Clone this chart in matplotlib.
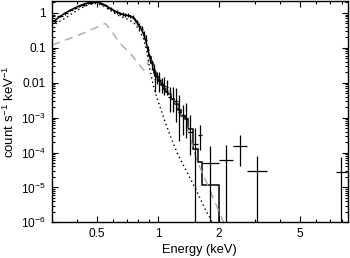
import numpy as np
import matplotlib
matplotlib.use("Agg")
import matplotlib.pyplot as plt
from matplotlib.ticker import FixedLocator, NullFormatter, LogLocator

plt.rcParams['font.family'] = ['Liberation Sans', 'DejaVu Sans']
plt.rcParams['mathtext.fontset'] = 'custom'
plt.rcParams['mathtext.rm'] = 'Liberation Sans'
plt.rcParams['mathtext.it'] = 'Liberation Sans'

# spectral bins (keV)
edges = [0.30, 0.32, 0.34, 0.36, 0.38, 0.40, 0.42, 0.44, 0.46, 0.48, 0.50,
         0.52, 0.54, 0.56, 0.58, 0.60, 0.62, 0.64, 0.66, 0.68, 0.70, 0.72,
         0.74, 0.76, 0.78, 0.80, 0.82, 0.84, 0.86, 0.88, 0.90, 0.92, 0.94,
         0.96, 0.98, 1.00, 1.03, 1.06, 1.09, 1.12, 1.16, 1.20, 1.25, 1.30,
         1.35, 1.40, 1.48, 1.57, 1.64, 2.00, 2.35, 2.75, 3.45]

# total model per bin
model = [0.6, 0.8, 1.0, 1.2, 1.4, 1.6, 1.78, 1.92, 2.0, 2.05, 2.0, 1.85,
         1.65, 1.45, 1.3, 1.15, 1.05, 0.97, 0.92, 0.88, 0.85, 0.82, 0.75,
         0.66, 0.52, 0.42, 0.33, 0.25, 0.16, 0.09, 0.055, 0.038, 0.025,
         0.019, 0.015, 0.011, 0.0085, 0.0068, 0.0055, 0.0048, 0.0035,
         0.0025, 0.0017, 0.0011, 9e-4, 4.7e-4, 1.3e-4, 5.5e-5, 1.2e-5,
         5e-7, 3e-7, 2e-7]

# observed count rate per bin and errors
rate = [0.58, 0.82, 0.98, 1.22, 1.38, 1.62, 1.75, 1.95, 1.98, 2.0, 2.02,
        1.82, 1.68, 1.42, 1.32, 1.12, 1.07, 0.95, 0.93, 0.86, 0.87, 0.8,
        0.77, 0.64, 0.54, 0.41, 0.34, 0.24, 0.17, 0.085, 0.05, 0.034,
        0.024, 0.013, 0.016, 0.012, 0.009, 0.008, 0.0075, 0.004, 0.0035,
        0.003, 0.0015, 0.0012, 0.001, 4e-4, 1.75e-4, 3.2e-4, 5e-5, 6.3e-5,
        1.55e-4, 3e-5]
rate_lo = [0.52, 0.75, 0.9, 1.12, 1.28, 1.5, 1.63, 1.82, 1.85, 1.87, 1.88,
           1.68, 1.55, 1.3, 1.2, 1.01, 0.96, 0.85, 0.83, 0.76, 0.77, 0.7,
           0.67, 0.55, 0.45, 0.33, 0.27, 0.18, 0.12, 0.06, 0.038, 0.024,
           0.016, 0.0055, 0.009, 0.0055, 0.005, 0.0045, 0.0045, 0.0015,
           0.0015, 7.7e-4, 2.1e-4, 3.2e-4, 2.6e-4, 8.6e-5, 1e-9, 1.2e-4,
           1e-9, 1e-9, 4e-5, 1e-9]
rate_hi = [0.64, 0.9, 1.07, 1.32, 1.5, 1.75, 1.88, 2.1, 2.12, 2.14, 2.16,
           1.96, 1.82, 1.55, 1.45, 1.24, 1.18, 1.06, 1.04, 0.97, 0.98, 0.9,
           0.88, 0.74, 0.64, 0.5, 0.42, 0.31, 0.23, 0.11, 0.064, 0.045,
           0.034, 0.023, 0.021, 0.02, 0.014, 0.015, 0.012, 0.0077, 0.0075,
           0.0071, 0.0045, 0.0023, 0.0026, 0.0012, 0.0005, 6.2e-4, 1.55e-4,
           1.6e-4, 3.2e-4, 8.2e-5]

# last, isolated bin
last_edges = [7.5, 8.5]
last_rate, last_lo, last_hi = 2.7e-5, 1e-9, 7.7e-5

# soft component (dotted)
soft_e = [0.30, 0.35, 0.40, 0.45, 0.50, 0.55, 0.60, 0.65, 0.70, 0.75, 0.78,
          0.82, 0.85, 0.88, 0.91, 0.95, 1.00, 1.08, 1.16, 1.25, 1.40, 1.54,
          1.70, 1.85]
soft_v = [0.42, 0.72, 1.2, 1.7, 1.9, 1.5, 1.05, 0.8, 0.68, 0.55, 0.45, 0.27,
          0.18, 0.08, 0.025, 0.008, 0.003, 8e-4, 2.6e-4, 9e-5, 2.5e-5,
          8.6e-6, 2.5e-6, 1e-6]

# hard component (gray dashed)
hard_e = [0.30, 0.42, 0.55, 0.58, 0.62, 0.65, 0.73, 0.80, 0.85, 0.88, 0.91,
          0.95, 1.00, 1.10, 1.20, 1.30, 1.40, 1.50, 1.55, 1.70, 1.90, 2.10,
          2.20]
hard_v = [0.12, 0.25, 0.5, 0.35, 0.2, 0.134, 0.069, 0.036, 0.023, 0.029,
          0.05, 0.03, 0.016, 0.007, 0.0032, 0.0013, 4.5e-4, 1.2e-4, 6e-5,
          1.8e-5, 4e-6, 1e-6, 5e-7]

edges = np.array(edges)
model = np.array(model)
cen = np.sqrt(edges[:-1] * edges[1:])
rate = np.array(rate)

fig = plt.figure(figsize=(3.5, 2.58), dpi=100)
ax = fig.add_axes([0.148, 0.138, 0.846, 0.858])

ax.plot(hard_e, hard_v, color='#aaaaaa', lw=1.0, dashes=(6, 4))
ax.plot(soft_e, soft_v, color='black', lw=1.0, ls=(0, (1, 2.2)))

# model: smooth where bins are narrow, histogram where they are wide
k = 30
ax.plot(np.r_[edges[0], cen[:k + 1]], np.r_[model[0], model[:k + 1]],
        color='black', lw=1.1)
ax.stairs(model[k:], edges[k:], color='black', lw=1.1, baseline=None)

ax.errorbar(cen, rate, xerr=[cen - edges[:-1], edges[1:] - cen],
            yerr=[rate - np.array(rate_lo), np.array(rate_hi) - rate],
            fmt='none', ecolor='black', elinewidth=0.9, capsize=0)
lc = np.sqrt(last_edges[0] * last_edges[1])
ax.errorbar([lc], [last_rate], xerr=[[lc - last_edges[0]], [last_edges[1] - lc]],
            yerr=[[last_rate - last_lo], [last_hi - last_rate]],
            fmt='none', ecolor='black', elinewidth=0.9, capsize=0)

ax.set_xscale('log')
ax.set_yscale('log')
ax.set_xlim(0.3, 8.6)
ax.set_ylim(1e-6, 2.2)

ax.xaxis.set_major_locator(FixedLocator([0.5, 1, 2, 5]))
ax.set_xticklabels(['0.5', '1', '2', '5'])
ax.xaxis.set_minor_locator(FixedLocator([0.3, 0.4, 0.6, 0.7, 0.8, 0.9, 3, 4, 6, 7, 8]))
ax.xaxis.set_minor_formatter(NullFormatter())

ax.yaxis.set_major_locator(FixedLocator([1e-6, 1e-5, 1e-4, 1e-3, 0.01, 0.1, 1]))
ax.set_yticklabels(['$10^{-6}$', '$10^{-5}$', '$10^{-4}$', '$10^{-3}$',
                    '0.01', '0.1', '1'])
ax.yaxis.set_minor_locator(LogLocator(base=10, subs=np.arange(2, 10), numticks=20))
ax.yaxis.set_minor_formatter(NullFormatter())

ax.tick_params(which='both', direction='in', top=True, right=True,
               labelsize=8.6, width=0.8)
ax.tick_params(axis='y', pad=4.5)
ax.tick_params(axis='x', pad=4)
ax.tick_params(which='major', length=4)
ax.tick_params(which='minor', length=2)
for s in ax.spines.values():
    s.set_linewidth(1.0)

ax.set_xlabel('Energy (keV)', fontsize=9.2, labelpad=3)
ax.set_ylabel('count s$^{-1}$ keV$^{-1}$', fontsize=9.5, labelpad=3)

plt.savefig('out.png', dpi=100)
